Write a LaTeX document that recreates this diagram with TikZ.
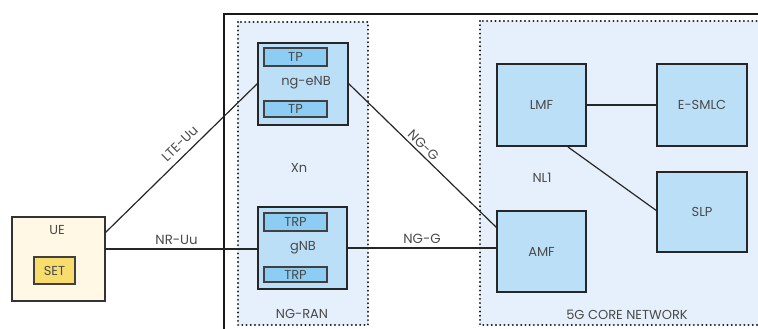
\documentclass[tikz,border=0pt]{standalone}
\usepackage{fontspec}
\setmainfont{Poppins}
\definecolor{regionbg}{HTML}{E6F0FC}
\definecolor{elembg}{HTML}{BCDFF8}
\definecolor{subbg}{HTML}{8ECDF3}
\definecolor{uebg}{HTML}{FEF8E4}
\definecolor{setbg}{HTML}{F8DC6C}
\definecolor{ink}{HTML}{4A4A4A}
\begin{document}
\begin{tikzpicture}[x=1pt,y=-1pt,
  txt/.style={text=ink, font=\fontsize{13}{15}\selectfont, inner sep=0pt},
  lbl/.style={txt, font=\fontsize{13.3}{15}\selectfont},
  region/.style={draw=black!90, line width=2.3pt, dash pattern=on 0.01pt off 4.2pt, line cap=round, fill=regionbg},
  elem/.style={draw=black!85, line width=1.6pt, fill=elembg, inner sep=0pt},
  sub/.style={draw=black!75, line width=1.1pt, fill=subbg, inner sep=0pt},
  link/.style={draw=black!85, line width=1.2pt}]
\useasboundingbox (0,0) rectangle (758,329);
\begin{scope}
\clip (0,0) rectangle (758,329);
% outer frame of the network
\draw[black!90, line width=1.5pt] (224,340) -- (224,14) -- (770,14);
% NG-RAN region
\draw[region] (238,22) rectangle (368,325);
% 5G core region
\draw[region] (480,21) rectangle (790,325);
\end{scope}
\node[txt] (ngran) at (302,314) {NG-RAN};
\node[txt] (core) at (627,315) {5G CORE NETWORK};
\node[txt] (xn) at (299,168) {Xn};
\node[txt] (nl1) at (542,178) {NL1};

% UE with SET
\node[draw=black!80, line width=1.5pt, fill=uebg, minimum width=93pt, minimum height=84pt, inner sep=0pt] (ue) at (58.5,259) {};
\node[txt] (uelbl) at (57,230) {UE};
\node[draw=black!75, line width=1.1pt, fill=setbg, minimum width=41pt, minimum height=27pt, inner sep=0pt, text=ink, font=\fontsize{13}{15}\selectfont] (set) at (54.5,270.5) {SET};

% ng-eNB
\node[elem, minimum width=90pt, minimum height=82pt] (enb) at (303,84) {};
\node[txt] (enblbl) at (306,83) {ng-eNB};
\node[sub, minimum width=63pt, minimum height=18pt, txt] (tp1) at (295.5,57) {TP};
\node[sub, minimum width=63pt, minimum height=16pt, txt] (tp2) at (295.5,109) {TP};

% gNB
\node[elem, minimum width=89pt, minimum height=82pt] (gnb) at (302.5,248) {};
\node[txt] (gnblbl) at (303,248) {gNB};
\node[sub, minimum width=63pt, minimum height=18pt, txt] (trp1) at (295.5,222) {TRP};
\node[sub, minimum width=63pt, minimum height=15pt, txt] (trp2) at (295.5,274.5) {TRP};

% core functions
\node[elem, minimum width=89pt, minimum height=82pt, txt] (lmf) at (541.5,105) {LMF};
\node[elem, minimum width=90pt, minimum height=82pt, txt] (esmlc) at (702,105) {E-SMLC};
\node[elem, minimum width=90pt, minimum height=80pt, txt] (slp) at (702,212) {SLP};
\node[elem, minimum width=89pt, minimum height=81pt, txt] (amf) at (541.5,251.5) {AMF};

% interfaces
\coordinate (ueA) at (105,233);
\coordinate (ueB) at (105,249);
\coordinate (enbW) at (258,83);
\coordinate (enbE) at (348,83);
\coordinate (amfA) at (497,228);
\coordinate (lmfS) at (568,147);
\coordinate (slpW) at (657,211);
\draw[link] (ueA) -- node[lbl, sloped, above=6pt, pos=0.54] {LTE-Uu} (enbW);
\draw[link] (ueB) -- node[lbl, above=4pt, pos=0.47] {NR-Uu} (ueB -| gnb.west);
\draw[link] (enbE) -- node[lbl, sloped, above=2.5pt, pos=0.47] {NG-G} (amfA);
\draw[link] (gnb.east) -- node[lbl, above=4pt, pos=0.5] {NG-G} (gnb.east -| amf.west);
\draw[link] (lmf.east) -- (esmlc.west);
\draw[link] (lmfS) -- (slpW);
\end{tikzpicture}
\end{document}
